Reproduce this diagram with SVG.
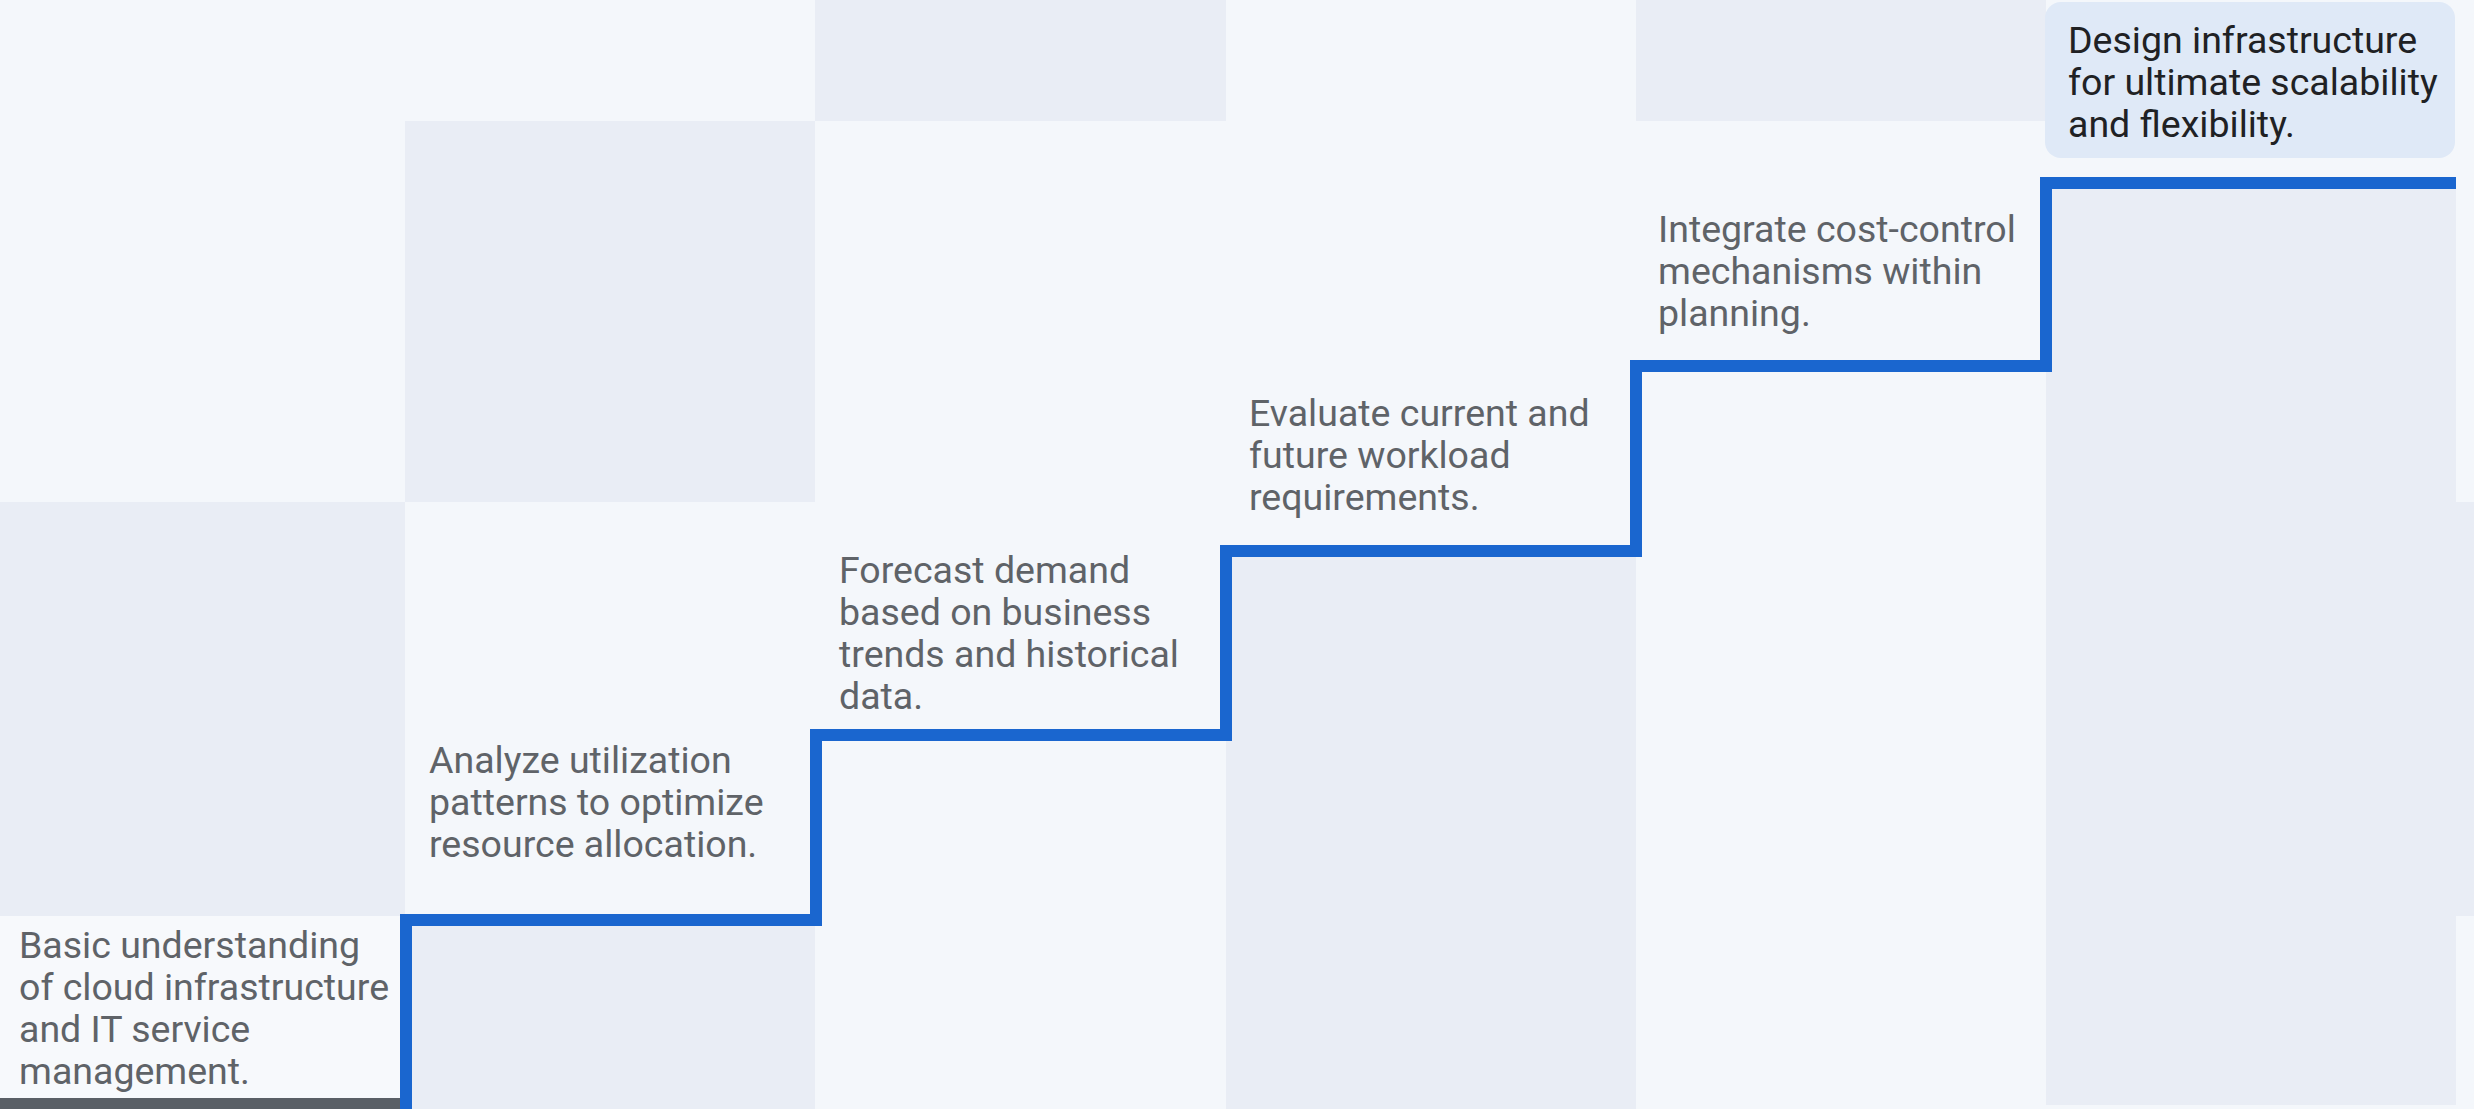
<svg xmlns="http://www.w3.org/2000/svg" width="2474" height="1109" viewBox="0 0 2474 1109">
<style>
.bg{fill:#f4f7fb}
.dk{fill:#e9edf5}
.t{font-family:Roboto,"Liberation Sans",sans-serif;font-size:37.5px;fill:#5f6368}
.t6{font-family:Roboto,"Liberation Sans",sans-serif;font-size:37.5px;fill:#202124}
.stair{fill:none;stroke:#1a66cf;stroke-width:12;stroke-linejoin:miter}
</style>
<g id="background">
<rect class="bg" x="0" y="0" width="2474" height="1109"/>
<rect class="dk" x="815" y="0" width="411" height="121"/>
<rect class="dk" x="1636" y="0" width="410" height="121"/>
<rect class="dk" x="405" y="121" width="410" height="381"/>
<rect class="dk" x="0" y="502" width="405" height="414"/>
<rect class="dk" x="405" y="916" width="410" height="193"/>
<rect class="dk" x="1226" y="551" width="410" height="558"/>
<rect class="dk" x="2046" y="183" width="410" height="922"/>
<rect class="dk" x="2456" y="502" width="18" height="414"/>
</g>
<g id="step1">
<rect x="0" y="916" width="400" height="182" fill="#f7f9fc"/>
<rect x="0" y="1098" width="400" height="11" fill="#5a5f66"/>
<text class="t" x="19" y="958">Basic understanding</text>
<text class="t" x="19" y="1000">of cloud infrastructure</text>
<text class="t" x="19" y="1042">and IT service</text>
<text class="t" x="19" y="1084">management.</text>
</g>
<g id="step2">
<text class="t" x="429" y="773">Analyze utilization</text>
<text class="t" x="429" y="815">patterns to optimize</text>
<text class="t" x="429" y="857">resource allocation.</text>
</g>
<g id="step3">
<text class="t" x="839" y="583">Forecast demand</text>
<text class="t" x="839" y="625">based on business</text>
<text class="t" x="839" y="667">trends and historical</text>
<text class="t" x="839" y="709">data.</text>
</g>
<g id="step4">
<text class="t" x="1249" y="426">Evaluate current and</text>
<text class="t" x="1249" y="468">future workload</text>
<text class="t" x="1249" y="510">requirements.</text>
</g>
<g id="step5">
<text class="t" x="1658" y="242">Integrate cost-control</text>
<text class="t" x="1658" y="284">mechanisms within</text>
<text class="t" x="1658" y="326">planning.</text>
</g>
<g id="step6">
<rect x="2045" y="2" width="410" height="156" rx="16" fill="#dfe9f7"/>
<text class="t6" x="2068" y="53">Design infrastructure</text>
<text class="t6" x="2068" y="95">for ultimate scalability</text>
<text class="t6" x="2068" y="137">and flexibility.</text>
</g>
<g id="connectors">
<path class="stair" d="M406 1109 V920 H816 V735 H1226 V551 H1636 V366 H2046 V183 H2456"/>
</g>
</svg>
